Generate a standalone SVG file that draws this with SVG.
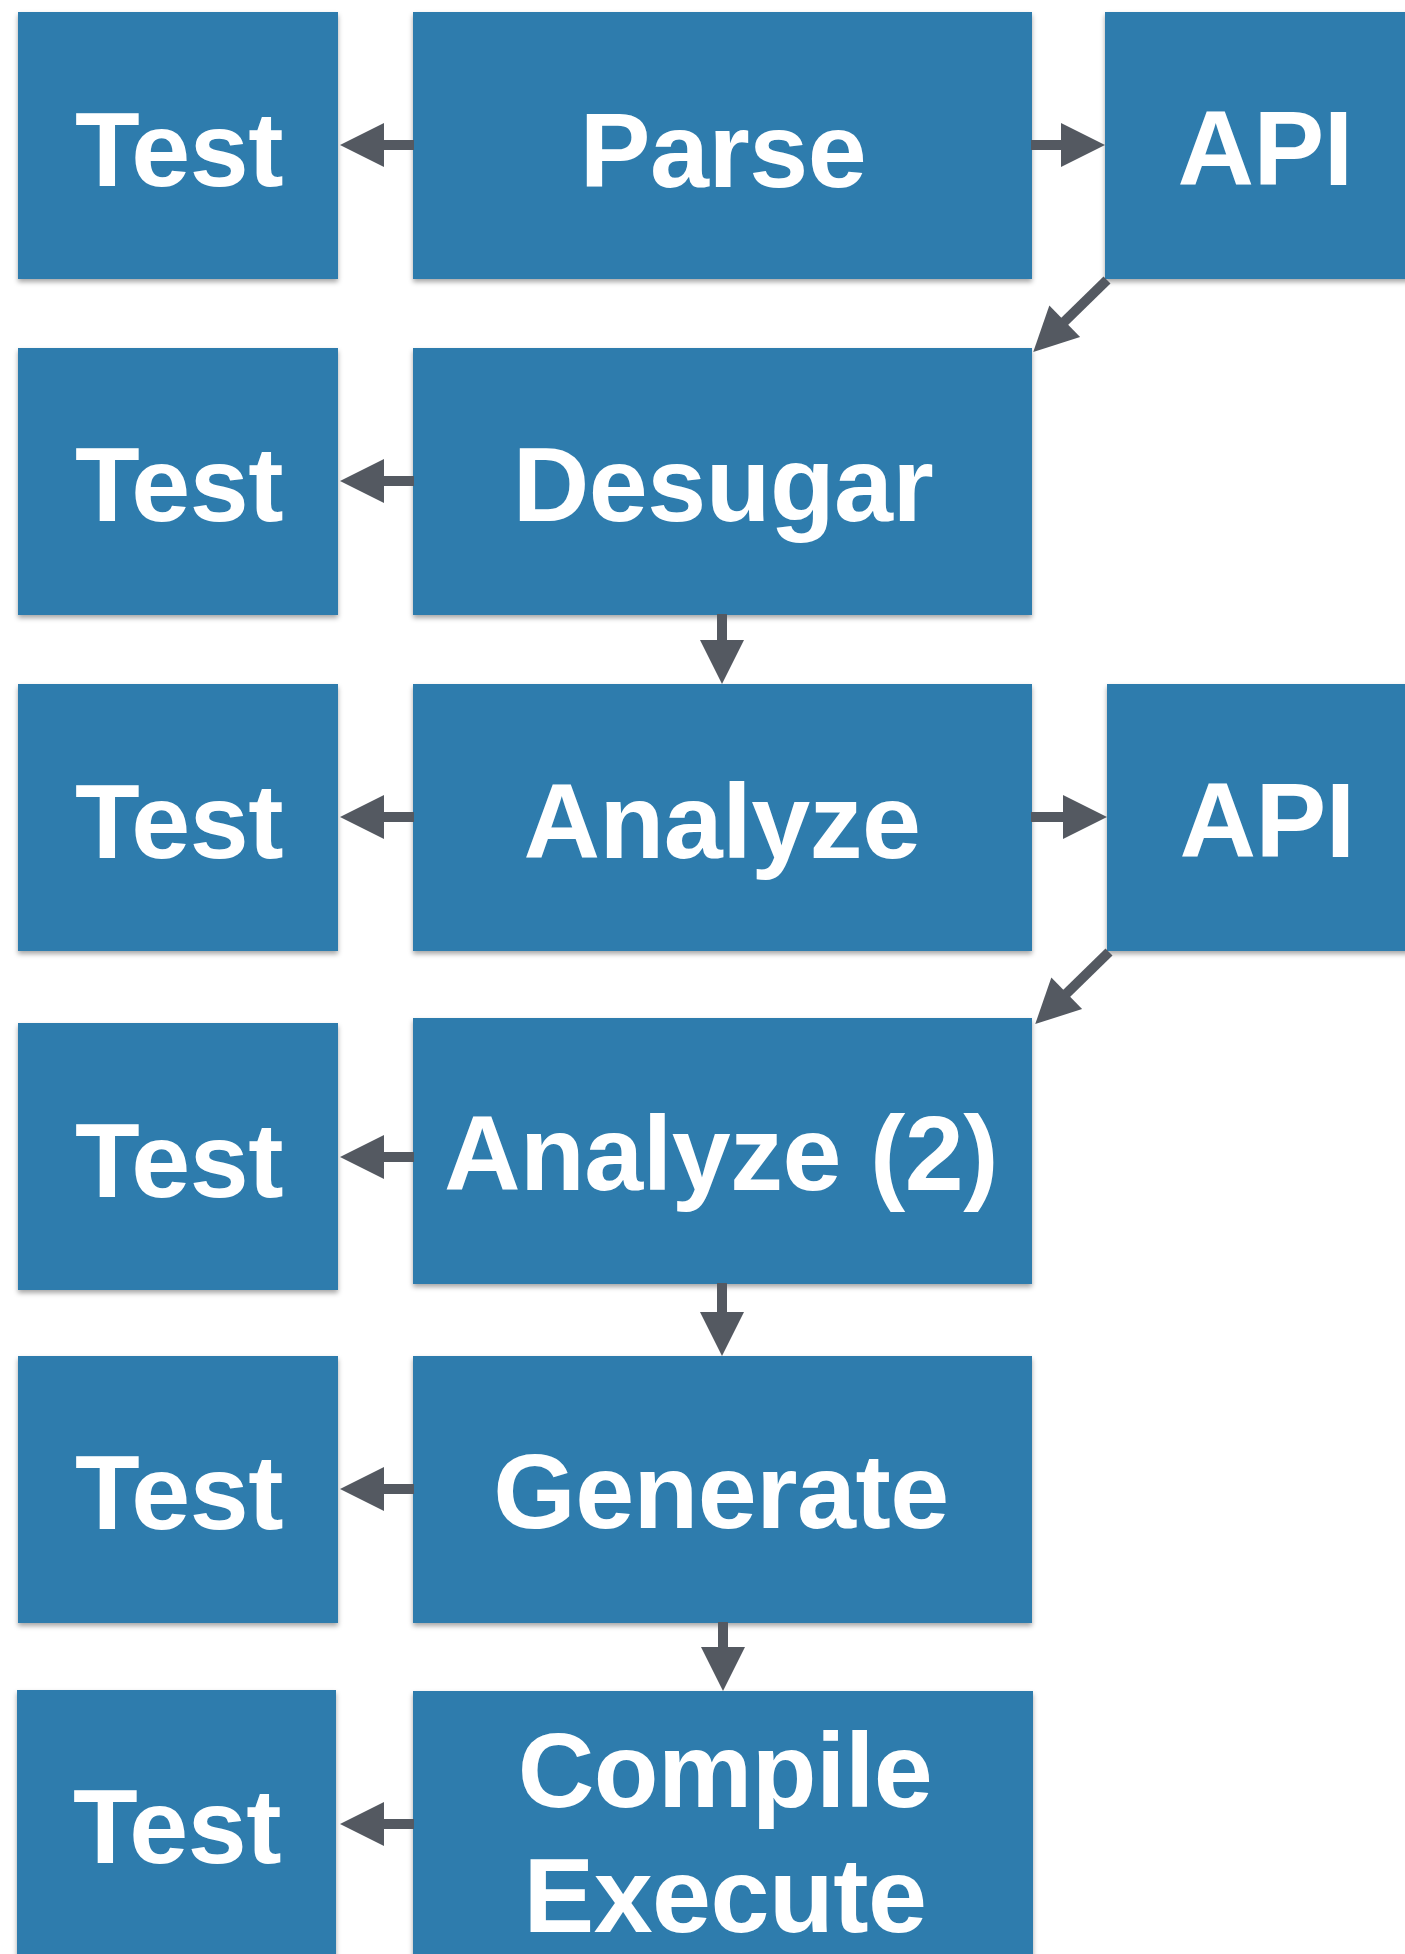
<svg xmlns="http://www.w3.org/2000/svg" width="1405" height="1954" viewBox="0 0 1405 1954">
  <defs>
    <filter id="sh" x="-10%" y="-10%" width="120%" height="130%">
      <feDropShadow dx="0" dy="3" stdDeviation="2.5" flood-color="#000" flood-opacity="0.35"/>
    </filter>
    <marker id="ah" markerUnits="userSpaceOnUse" markerWidth="46" markerHeight="46" viewBox="0 -23 46 46" refX="1" refY="0" orient="auto" overflow="visible">
      <path d="M0,-22 L44,0 L0,22 Z" fill="#545961"/>
    </marker>
    <style>
      .box { fill: #2e7cad; filter: url(#sh); }
      .lbl { fill: #ffffff; font-family: "Liberation Sans", Arial, Helvetica, sans-serif; font-weight: bold; font-size: 106px; text-anchor: middle; letter-spacing: -0.5px; }
      .conn { stroke: #545961; stroke-width: 10; fill: none; marker-end: url(#ah); }
    </style>
  </defs>
  <rect width="1405" height="1954" fill="#ffffff"/>

  <g id="nodes">
    <g id="test1"><rect class="box" x="18" y="12" width="320" height="267"/><text class="lbl" x="179" y="186">Test</text></g>
    <g id="parse"><rect class="box" x="413" y="12" width="619" height="267"/><text class="lbl" x="723" y="187">Parse</text></g>
    <g id="api1"><rect class="box" x="1105" y="12" width="320" height="267"/><text class="lbl" x="1265" y="185">API</text></g>

    <g id="test2"><rect class="box" x="18" y="348" width="320" height="267"/><text class="lbl" x="179" y="521">Test</text></g>
    <g id="desugar"><rect class="box" x="413" y="348" width="619" height="267"/><text class="lbl" x="723" y="521">Desugar</text></g>

    <g id="test3"><rect class="box" x="18" y="684" width="320" height="267"/><text class="lbl" x="179" y="858">Test</text></g>
    <g id="analyze"><rect class="box" x="413" y="684" width="619" height="267"/><text class="lbl" x="722" y="858">Analyze</text></g>
    <g id="api2"><rect class="box" x="1107" y="684" width="320" height="267"/><text class="lbl" x="1267" y="857">API</text></g>

    <g id="test4"><rect class="box" x="18" y="1023" width="320" height="267"/><text class="lbl" x="179" y="1197">Test</text></g>
    <g id="analyze2"><rect class="box" x="413" y="1018" width="619" height="266"/><text class="lbl" x="721" y="1190">Analyze (2)</text></g>

    <g id="test5"><rect class="box" x="18" y="1356" width="320" height="267"/><text class="lbl" x="179" y="1529">Test</text></g>
    <g id="generate"><rect class="box" x="413" y="1356" width="619" height="267"/><text class="lbl" x="721" y="1528">Generate</text></g>

    <g id="test6"><rect class="box" x="17" y="1690" width="319" height="280"/><text class="lbl" x="177" y="1863">Test</text></g>
    <g id="compile"><rect class="box" x="413" y="1691" width="620" height="280"/><text class="lbl" x="725" y="1807">Compile</text><text class="lbl" x="725" y="1932">Execute</text></g>
  </g>

  <g id="connectors">
    <line class="conn" x1="414" y1="145" x2="383" y2="145"/>
    <line class="conn" x1="1031" y1="145" x2="1062" y2="145"/>
    <line class="conn" x1="1107" y1="280" x2="1064" y2="322"/>
    <line class="conn" x1="414" y1="481" x2="383" y2="481"/>
    <line class="conn" x1="722" y1="614" x2="722" y2="641"/>
    <line class="conn" x1="414" y1="817" x2="383" y2="817"/>
    <line class="conn" x1="1031" y1="817" x2="1064" y2="817"/>
    <line class="conn" x1="1109" y1="952" x2="1066" y2="994"/>
    <line class="conn" x1="414" y1="1157" x2="383" y2="1157"/>
    <line class="conn" x1="722" y1="1283" x2="722" y2="1313"/>
    <line class="conn" x1="414" y1="1489" x2="383" y2="1489"/>
    <line class="conn" x1="723" y1="1622" x2="723" y2="1648"/>
    <line class="conn" x1="414" y1="1824" x2="383" y2="1824"/>
  </g>
</svg>
